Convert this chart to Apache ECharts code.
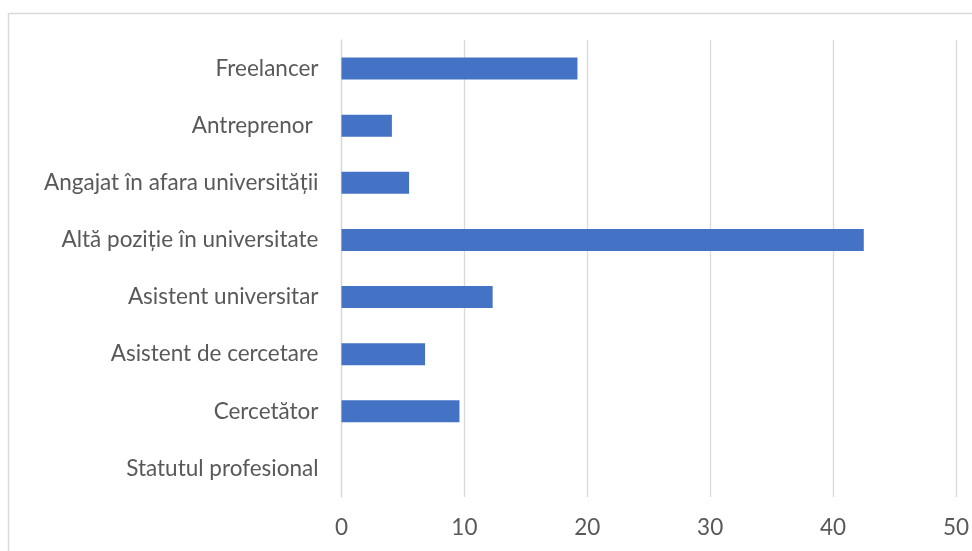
<!DOCTYPE html>
<html>
<head>
<meta charset="utf-8">
<script src="https://cdn.jsdelivr.net/npm/echarts@6/dist/echarts.min.js"></script>
<style>
html,body{margin:0;padding:0;background:#fff;}
#chart{width:972px;height:551px;}
</style>
</head>
<body>
<div id="chart"></div>
<script>
const categories = ["Freelancer", "Antreprenor ", "Angajat în afara universității", "Altă poziție în universitate", "Asistent universitar", "Asistent de cercetare", "Cercetător", "Statutul profesional"];
const values = [19.2, 4.1, 5.5, 42.5, 12.3, 6.8, 9.6, null];
const xTicks = [0, 10, 20, 30, 40, 50];

const chart = echarts.init(document.getElementById('chart'));
const FONT = 'Lato';
chart.setOption({
  animation: false,
  backgroundColor: '#ffffff',
  graphic: [{
    type: 'rect',
    shape: {x: 8.5, y: 13.5, width: 1000, height: 600},
    style: {fill: 'none', stroke: '#d9d9d9', lineWidth: 1.5},
    silent: true, z: -1
  }],
  grid: {left: 341.5, right: 16, top: 40, bottom: 54, containLabel: false},
  xAxis: {
    type: 'value',
    min: xTicks[0], max: xTicks[xTicks.length - 1], interval: 10,
    axisLine: {show: false},
    axisTick: {show: false},
    splitLine: {show: true, lineStyle: {color: '#d9d9d9', width: 1.3}},
    axisLabel: {color: '#595959', fontFamily: FONT, fontSize: 22.5, margin: 19}
  },
  yAxis: {
    type: 'category',
    data: categories,
    inverse: true,
    axisLine: {show: true, lineStyle: {color: '#d9d9d9', width: 1.3}},
    axisTick: {show: false},
    axisLabel: {color: '#595959', fontFamily: FONT, fontSize: 22.5, margin: 23}
  },
  series: [{
    type: 'bar',
    data: values,
    barWidth: 22,
    itemStyle: {color: '#4472c4'}
  }]
});
</script>
</body>
</html>
